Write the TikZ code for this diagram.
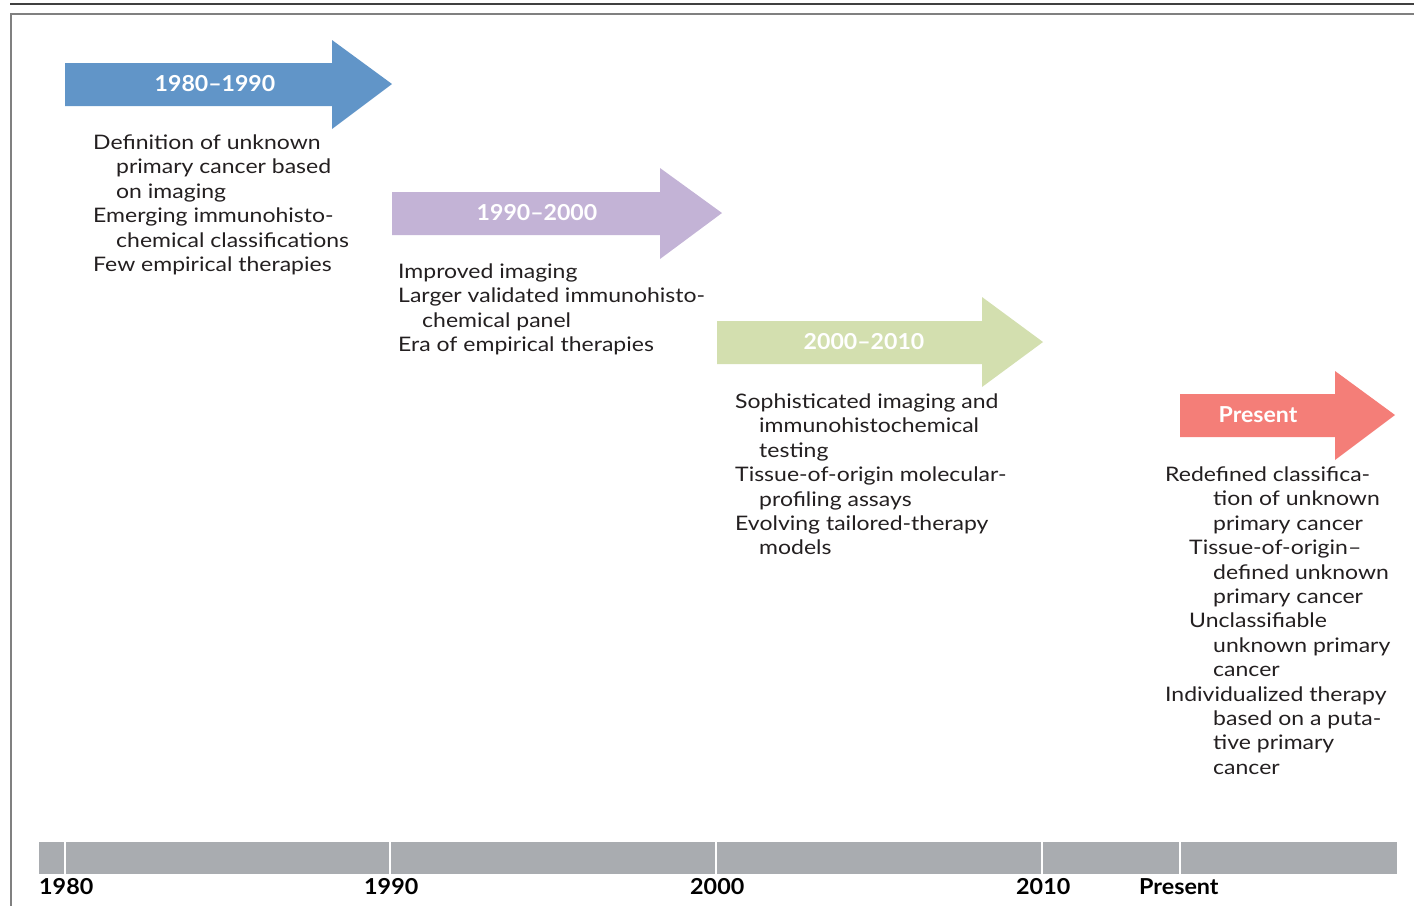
\documentclass[tikz,border=0pt]{standalone}
\usepackage{fontspec}
\setmainfont{Lato}
\newfontfamily\bodyfont[FakeStretch=1.15,Ligatures=TeX]{Lato}
\newfontfamily\headfont[FakeStretch=1.05,Ligatures=TeX]{Lato}
\newfontfamily\yearfont[FakeStretch=1.06,Ligatures=TeX]{Lato}
\definecolor{cblue}{HTML}{6195C8}
\definecolor{cpurple}{HTML}{C3B3D6}
\definecolor{cgreen}{HTML}{D3DFAF}
\definecolor{cred}{HTML}{F47E78}
\definecolor{cbar}{HTML}{A9ACB0}
\definecolor{ctext}{HTML}{231F20}
\begin{document}
\begin{tikzpicture}[x=1pt,y=-1pt,
  body/.style={inner sep=0pt, anchor=base west, text=ctext, font=\bodyfont\fontsize{20}{24}\selectfont},
  head/.style={inner sep=0pt, text=white, font=\headfont\fontsize{22}{26}\selectfont\bfseries},
  year/.style={inner sep=0pt, anchor=base west, text=black, font=\yearfont\fontsize{22}{26}\selectfont\bfseries},
  divider/.style={draw=white, line width=1.6pt}]
\useasboundingbox (0,0) rectangle (1414,906);
% frame
\draw[line width=1.6pt, draw=black!75] (10,4) -- (1414,4);
\draw[line width=1.8pt, draw=black!50] (1414,14) -- (11,14) -- (11,906);
% arrows
\fill[cblue] (65,63) -- (332,63) -- (332,40) -- (392,84) -- (332,129) -- (332,106) -- (65,106) -- cycle;
\node[head] (h1) at (215,84) {1980–1990};
\fill[cpurple] (392,192) -- (660,192) -- (660,168) -- (722,213) -- (660,259) -- (660,235) -- (392,235) -- cycle;
\node[head] (h2) at (537,213) {1990–2000};
\fill[cgreen] (717,321) -- (982,321) -- (982,297) -- (1043,342) -- (982,387) -- (982,364) -- (717,364) -- cycle;
\node[head] (h3) at (864,342) {2000–2010};
\fill[cred] (1180,394) -- (1335,394) -- (1335,371) -- (1395,415) -- (1335,460) -- (1335,437) -- (1180,437) -- cycle;
\node[head] (h4) at (1258,415) {Present};
% texts
\foreach \x/\y/\t [count=\i] in {93/149.5/Definition of unknown, 116/173.9/primary cancer based, 116/198.3/on imaging, 93/222.7/Emerging immunohisto-, 116/247.1/chemical classifications, 93/271.5/Few empirical therapies}
  \node[body] (a\i) at (\x,\y) {\t};
\foreach \x/\y/\t [count=\i] in {398/278.5/Improved imaging, 398/302.9/Larger validated immunohisto-, 422/327.3/chemical panel, 398/351.7/Era of empirical therapies}
  \node[body] (b\i) at (\x,\y) {\t};
\foreach \x/\y/\t [count=\i] in {735/408.5/Sophisticated imaging and, 759/432.9/immunohistochemical, 759/457.3/testing, 735/481.7/Tissue-of-origin molecular-, 759/506.1/profiling assays, 735/530.5/Evolving tailored-therapy, 759/554.9/models}
  \node[body] (c\i) at (\x,\y) {\t};
\foreach \x/\y/\t [count=\i] in {1165/481.5/Redefined classifica-, 1213/505.9/tion of unknown, 1213/530.3/primary cancer, 1189/554.7/Tissue-of-origin–, 1213/579.1/defined unknown, 1213/603.5/primary cancer, 1189/627.9/Unclassifiable, 1213/652.3/unknown primary, 1213/676.7/cancer, 1165/701.1/Individualized therapy, 1213/725.5/based on a puta-, 1213/749.9/tive primary, 1213/774.3/cancer}
  \node[body] (d\i) at (\x,\y) {\t};
% timeline bar
\fill[cbar] (39,842) rectangle (1397,874);
\foreach \x/\n in {65/t1,390/t2,716/t3,1042/t4,1180/t5}
  \draw[divider] (\x,842) -- (\x,874);
\node[year] (y1) at (39,894) {1980};
\node[year] (y2) at (364,894) {1990};
\node[year] (y3) at (690,894) {2000};
\node[year] (y4) at (1016,894) {2010};
\node[year] (y5) at (1139,894) {Present};
\end{tikzpicture}
\end{document}
